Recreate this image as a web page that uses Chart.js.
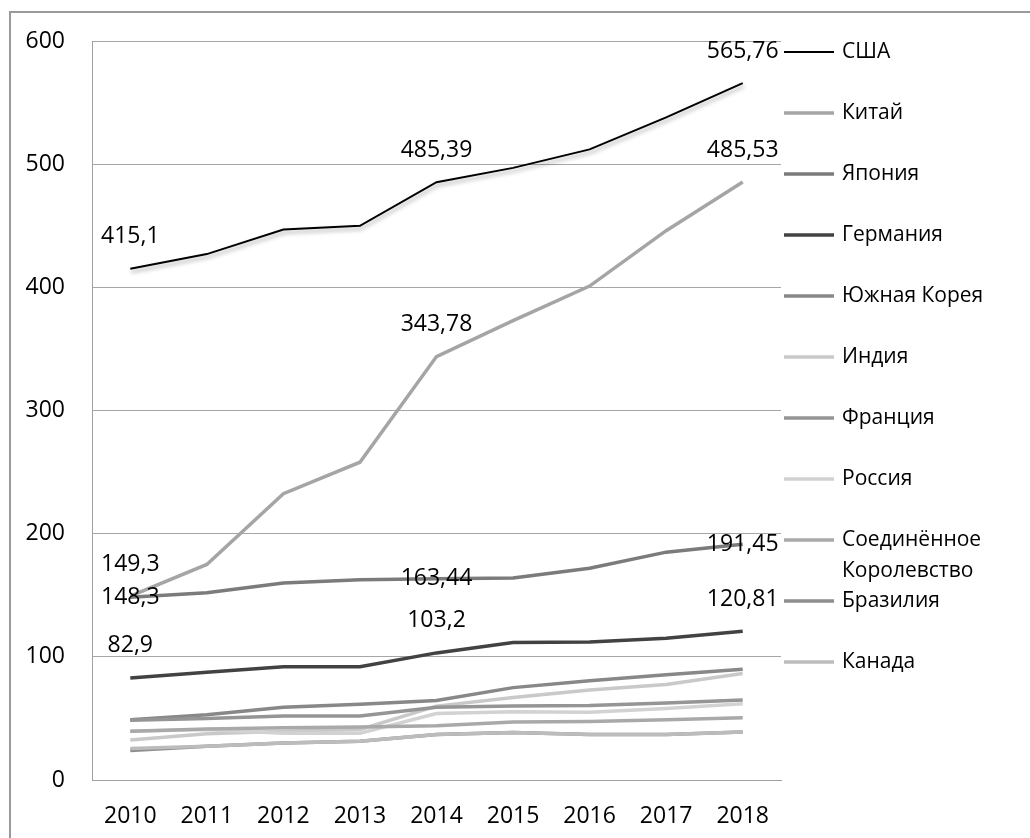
<!DOCTYPE html>
<html>
<head>
<meta charset="utf-8">
<script src="https://cdn.jsdelivr.net/npm/chart.js@4.4.0/dist/chart.umd.min.js"></script>
<style>
  html, body { margin: 0; padding: 0; background: #fff; overflow: hidden; }
  canvas { display: block; }
</style>
</head>
<body>
<canvas id="chart" width="1030" height="838"></canvas>
<script>
// data
var years = ["2010", "2011", "2012", "2013", "2014", "2015", "2016", "2017", "2018"];
var countries = ["США", "Китай", "Япония", "Германия", "Южная Корея", "Индия", "Франция", "Россия", "Соединённое\nКоролевство", "Бразилия", "Канада"];

var usa     = [415.1, 427, 447, 450, 485.39, 497, 512, 538, 565.76];
var china   = [149.3, 175, 232.5, 258, 343.78, 373, 401, 446, 485.53];
var japan   = [148.3, 152, 160, 162.5, 163.44, 164, 172, 185, 191.45];
var germany = [82.9, 87.5, 92, 92, 103.2, 111.7, 112, 115, 120.81];
var korea   = [49, 53, 59, 61.5, 64.5, 75, 80.5, 85.5, 90];
var india   = [32.5, 37.5, 39.5, 41, 60, 67, 73, 77.5, 86.5];
var france  = [48.5, 50, 52, 52, 59, 60, 60.5, 62.5, 65];
var russia  = [39.5, 41, 38, 38, 54, 55.5, 55, 58, 62];
var uk      = [39.5, 41.5, 42.5, 43, 44, 47, 47.5, 49, 50.5];
var brazil  = [24, 27.5, 30, 31.5, 37, 38.5, 37, 37, 39];
var canada  = [25.5, 27.5, 30, 31.5, 37, 38.5, 37, 37, 39];

var yTicks = [0, 100, 200, 300, 400, 500, 600];
var labelledYears = [0, 4, 8];   // points that carry a value label

var series = [usa, china, japan, germany, korea, india, france, russia, uk, brazil, canada];
var colors = ["#000000", "#a5a5a5", "#7b7b7b", "#424242", "#888888", "#c9c9c9", "#959595", "#d2d2d2", "#a9a9a9", "#8e8e8e", "#bcbcbc"];
var widths = [2, 3.5, 3.5, 3.5, 3.5, 3.5, 3.5, 3.5, 3.5, 3.5, 3.5];

var FONT = "'Open Sans', 'DejaVu Sans', sans-serif";

var datasets = series.map(function (vals, i) {
  return {
    label: countries[i],
    data: vals,
    borderColor: colors[i],
    borderWidth: widths[i],
    pointRadius: 0,
    tension: 0,
    fill: false,
    order: -i,
    valueLabels: i < 4,
    labelCentered: i === 2
  };
});

// soft shadow under the black line, as in the original
var shadowPlugin = {
  id: "shadow",
  beforeDatasetDraw: function (chart, args) {
    if (args.index !== 0) return;
    var c = chart.ctx;
    c.save();
    c.shadowColor = "rgba(0,0,0,0.35)";
    c.shadowBlur = 4;
    c.shadowOffsetX = 1;
    c.shadowOffsetY = 3;
  },
  afterDatasetDraw: function (chart, args) {
    if (args.index !== 0) return;
    chart.ctx.restore();
  }
};

// value labels like "415,1"
var valuePlugin = {
  id: "values",
  afterDatasetsDraw: function (chart) {
    var c = chart.ctx;
    c.save();
    c.font = "23px " + FONT;
    c.fillStyle = "#000";
    c.textAlign = "center";
    c.textBaseline = "middle";
    chart.data.datasets.forEach(function (ds, di) {
      if (!ds.valueLabels) return;
      var meta = chart.getDatasetMeta(di);
      labelledYears.forEach(function (idx) {
        var pt = meta.data[idx];
        var txt = String(ds.data[idx]).replace(".", ",");
        var y = ds.labelCentered ? pt.y : pt.y - 32;
        c.fillText(txt, pt.x, y);
      });
    });
    c.restore();
  }
};

// legend on the right and the outer frame
var legendPlugin = {
  id: "sideLegend",
  afterDraw: function (chart) {
    var c = chart.ctx;
    c.save();
    c.fillStyle = "#9a9a9a";
    c.fillRect(9, 11, 2, chart.height - 11);
    c.fillRect(9, 11, chart.width - 9, 2);

    c.font = "21px " + FONT;
    c.fillStyle = "#000";
    c.textAlign = "left";
    c.textBaseline = "middle";
    chart.data.datasets.forEach(function (ds, i) {
      var y = 52 + 61 * i;
      c.strokeStyle = ds.borderColor;
      c.lineWidth = ds.borderWidth;
      c.beginPath();
      c.moveTo(784, y);
      c.lineTo(834, y);
      c.stroke();
      ds.label.split("\n").forEach(function (line, k) {
        c.fillText(line, 842, y + k * 31);
      });
    });
    c.restore();
  }
};

var ctx = document.getElementById("chart").getContext("2d");
var myChart = new Chart(ctx, {
  type: "line",
  data: { labels: years, datasets: datasets },
  options: {
    responsive: false,
    animation: false,
    layout: { padding: { top: 41, right: 249, left: 0, bottom: 0 } },
    plugins: { legend: { display: false }, tooltip: { enabled: false } },
    scales: {
      x: {
        offset: true,
        grid: { display: false, drawTicks: false },
        border: { display: true, color: "#a0a0a0", width: 1 },
        ticks: { color: "#000", font: { family: FONT, size: 23 }, padding: 23, maxRotation: 0 },
        afterFit: function (scale) { scale.height = 58; }
      },
      y: {
        min: 0,
        max: 600,
        afterBuildTicks: function (scale) {
          scale.ticks = yTicks.map(function (v) { return { value: v }; });
        },
        grid: { color: "#a6a6a6", lineWidth: 1, drawTicks: false },
        border: { display: true, color: "#a0a0a0", width: 1 },
        ticks: { color: "#000", font: { family: FONT, size: 23 }, padding: 27 },
        afterFit: function (scale) { scale.width = 92; }
      }
    }
  },
  plugins: [shadowPlugin, valuePlugin, legendPlugin]
});
</script>
</body>
</html>
